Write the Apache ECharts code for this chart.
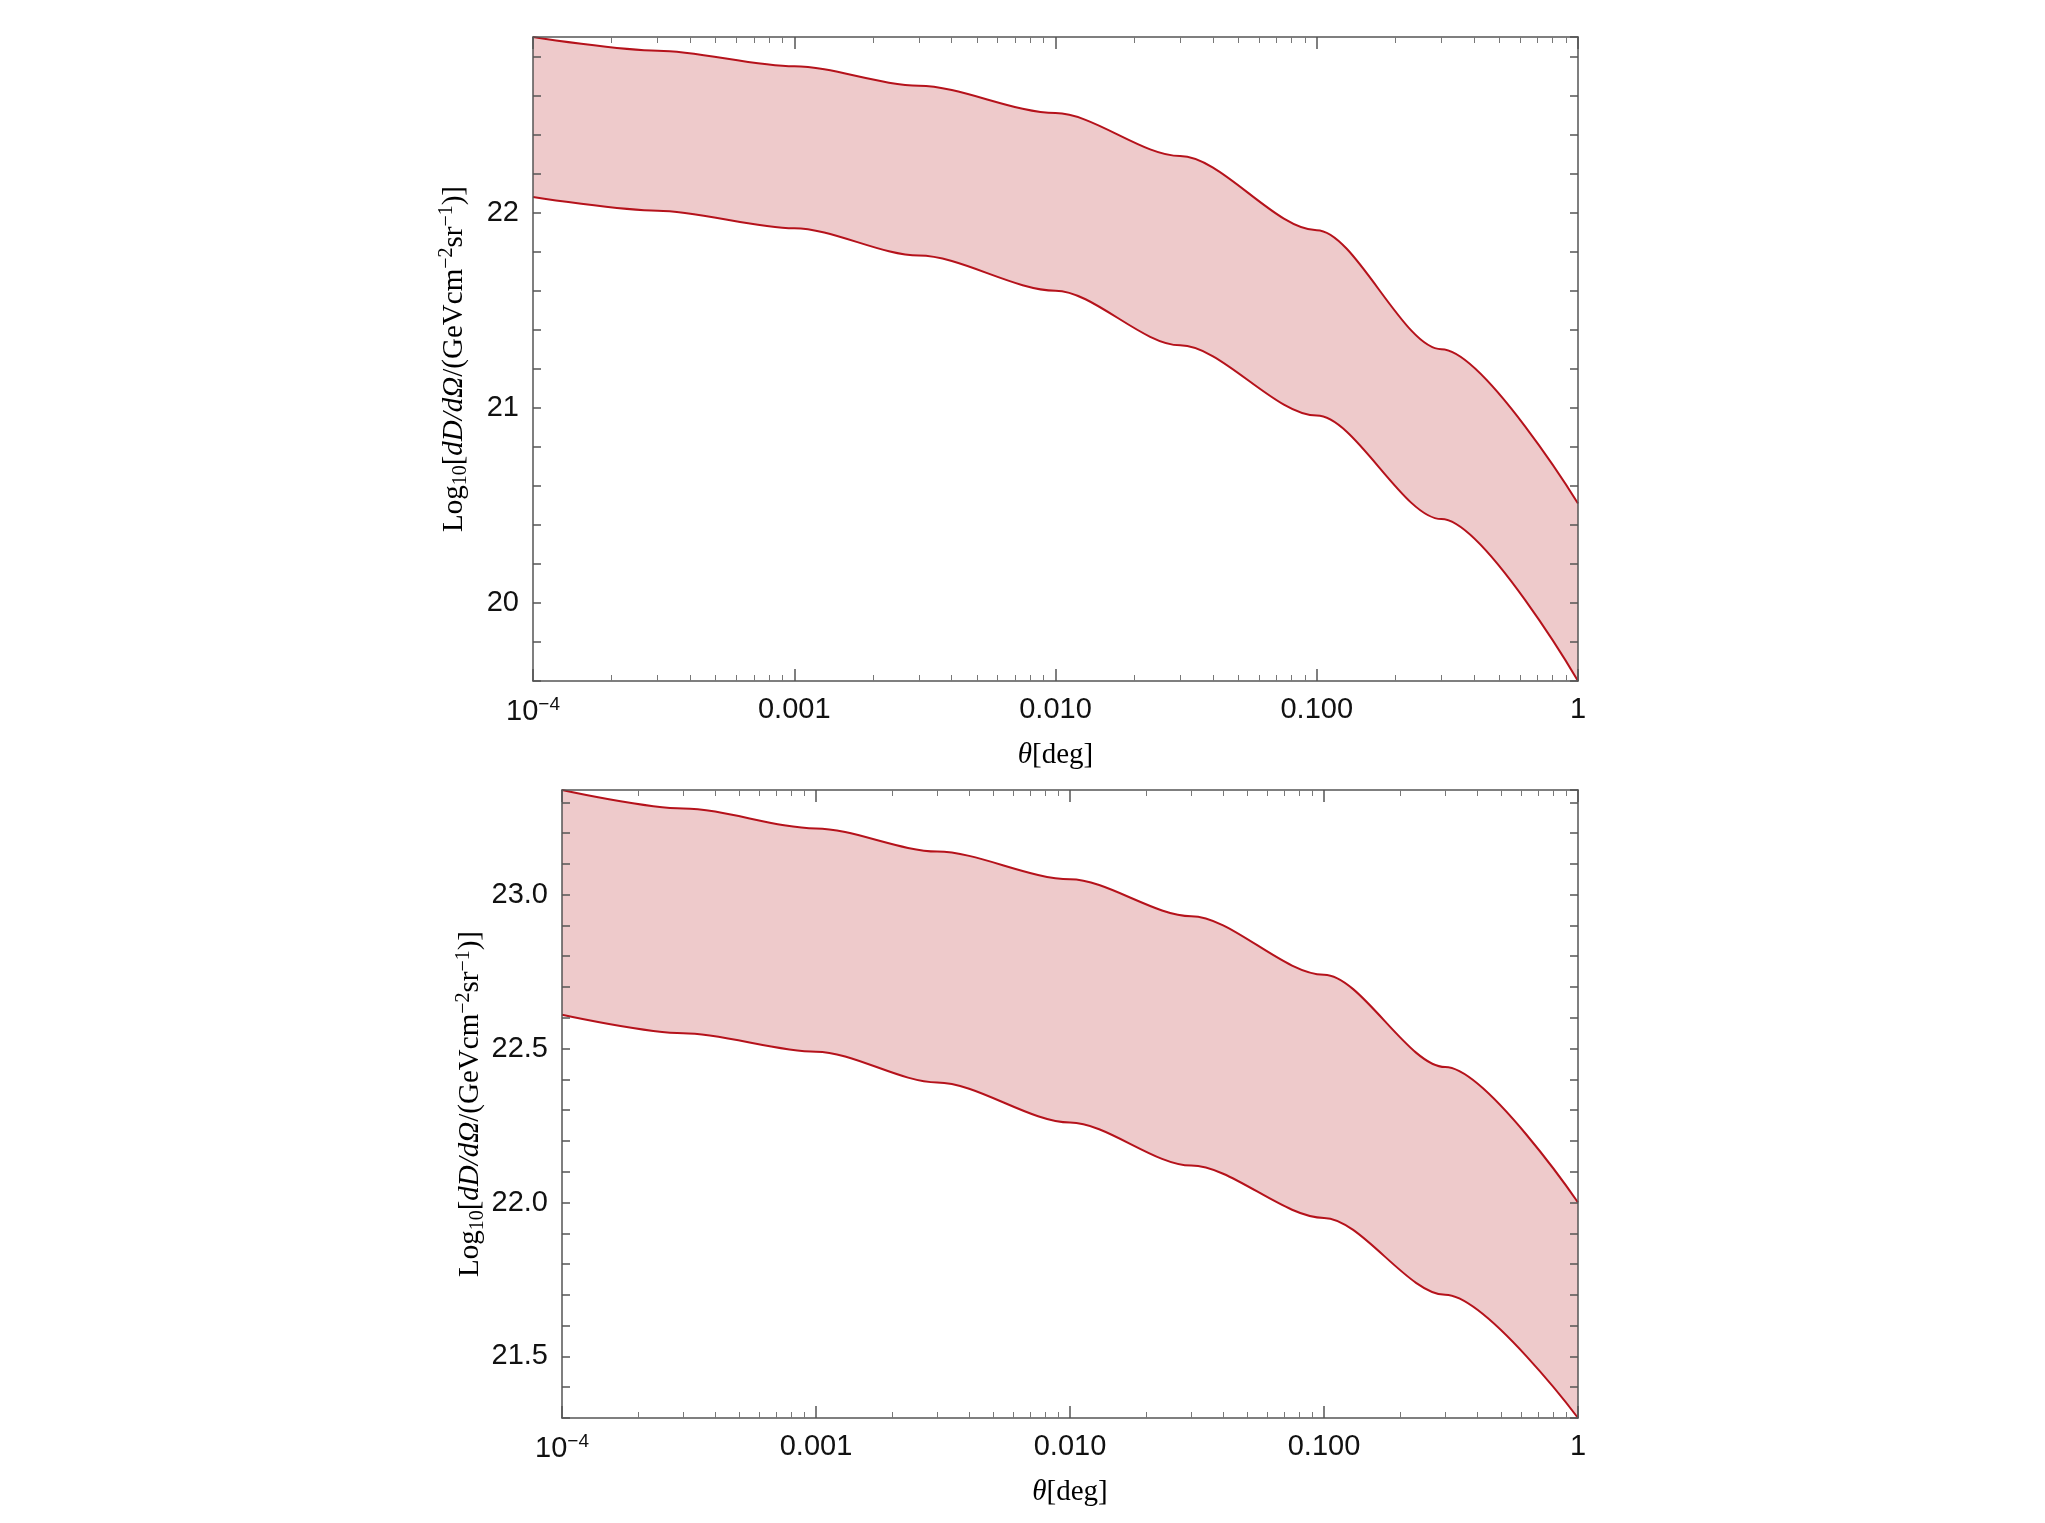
<!DOCTYPE html>
<html><head><meta charset="utf-8">
<script src="https://cdn.jsdelivr.net/npm/echarts@6/dist/echarts.min.js"></script>
<style>html,body{margin:0;background:#fff}#c{width:2045px;height:1523px}</style>
</head><body><div id="c"></div>
<script>
const theta = [0.0001, 0.0003, 0.001, 0.003, 0.01, 0.03, 0.1, 0.3, 1];
const topUpper = [22.90, 22.83, 22.75, 22.65, 22.51, 22.29, 21.91, 21.30, 20.51];
const topLower = [22.08, 22.01, 21.92, 21.78, 21.60, 21.32, 20.96, 20.43, 19.60];
const botUpper = [23.34, 23.28, 23.215, 23.14, 23.05, 22.93, 22.74, 22.44, 22.00];
const botLower = [22.61, 22.55, 22.49, 22.39, 22.26, 22.12, 21.95, 21.70, 21.30];
const xTickLabels = {0.0001: '10{sup|−4}', 0.001: '0.001', 0.01: '0.010', 0.1: '0.100', 1: '1'};

const RED = '#b5121b', FILL = '#eecacb';
const grids = [
  {left: 533, right: 2045 - 1578, top: 37, height: 644},
  {left: 562, right: 2045 - 1578, top: 790, height: 628}
];
const yName = '{t|Log}{s|10}{t|[}{f|dD/dΩ}{t|/(GeVcm}{p|−2}{t|sr}{p|−1}{t|)]}';
const nameRich = {
  t: {fontFamily: 'Liberation Serif', fontSize: 29, color: '#000'},
  s: {fontFamily: 'Liberation Serif', fontSize: 20, color: '#000', verticalAlign: 'bottom', padding: [12, 0, 0, 0]},
  p: {fontFamily: 'Liberation Serif', fontSize: 20, color: '#000', verticalAlign: 'top', padding: [0, 0, 14, 0]},
  f: {fontFamily: 'Liberation Serif', fontSize: 29, fontStyle: 'italic', color: '#000'}
};
const lineStyleAx = {color: '#555', width: 1.5};
function xAx(i, main) {
  return {
    type: 'log', logBase: 10, gridIndex: i, min: 0.0001, max: 1,
    position: main ? 'bottom' : 'top',
    axisLine: {show: true, onZero: false, lineStyle: lineStyleAx},
    axisTick: {show: true, inside: true, length: 12, lineStyle: lineStyleAx},
    minorTick: {show: true, splitNumber: 9, length: 6, lineStyle: {color: '#777'}},
    splitLine: {show: false},
    axisLabel: main ? {
      show: true, margin: 14,
      formatter: v => xTickLabels[+v.toPrecision(3)] || '',
      fontFamily: 'Liberation Sans', fontSize: 29, color: '#111',
      rich: {sup: {fontSize: 19, verticalAlign: 'top', padding: [0, 0, 14, 0], fontFamily: 'Liberation Sans', color: '#111'}}
    } : {show: false},
    name: main ? '{i|θ}{t|[deg]}' : '',
    nameLocation: 'middle', nameGap: 60,
    nameTextStyle: {rich: {i: {fontFamily: 'Liberation Serif', fontStyle: 'italic', fontSize: 29, color: '#000'}, t: nameRich.t}},
    z: 10
  };
}
function yAx(i, main, min, max, step, lblStep, dec) {
  return {
    type: 'value', gridIndex: i, min: min, max: max, interval: step,
    position: main ? 'left' : 'right',
    axisLine: {show: true, onZero: false, lineStyle: lineStyleAx},
    axisTick: {show: true, inside: true, length: 8, lineStyle: lineStyleAx},
    splitLine: {show: false},
    axisLabel: main ? {
      show: true, margin: 14, fontFamily: 'Liberation Sans', fontSize: 29, color: '#111',
      showMinLabel: true, showMaxLabel: false,
      formatter: v => {
        const r = Math.round(v / lblStep) * lblStep;
        return Math.abs(r - v) < 1e-6 ? r.toFixed(dec) : '';
      }
    } : {show: false},
    name: main ? yName : '', nameLocation: 'middle', nameRotate: 90, nameGap: 62,
    nameTextStyle: {rich: nameRich},
    z: 10
  };
}
function band(xi, yi, lower, upper) {
  const lo = theta.map((t, k) => [t, lower[k]]);
  const up = theta.map((t, k) => [t, upper[k]]);
  const common = {type: 'line', xAxisIndex: xi, yAxisIndex: yi, smooth: 0.3, smoothMonotone: 'x', symbol: 'none'};
  return [
    Object.assign({}, common, {data: up, lineStyle: {color: RED, width: 2},
      areaStyle: {color: FILL, opacity: 1, origin: 'start'}, z: 2}),
    Object.assign({}, common, {data: lo, lineStyle: {color: RED, width: 2},
      areaStyle: {color: '#ffffff', opacity: 1, origin: 'start'}, z: 3})
  ];
}
const chart = echarts.init(document.getElementById('c'), null, {renderer: 'canvas'});
chart.setOption({
  animation: false,
  grid: grids,
  xAxis: [xAx(0, true), xAx(1, true), xAx(0, false), xAx(1, false)],
  yAxis: [yAx(0, true, 19.6, 22.9, 0.2, 1, 0), yAx(1, true, 21.3, 23.34, 0.1, 0.5, 1),
          yAx(0, false, 19.6, 22.9, 0.2, 1, 0), yAx(1, false, 21.3, 23.34, 0.1, 0.5, 1)],
  series: [...band(0, 0, topLower, topUpper), ...band(1, 1, botLower, botUpper)]
});
</script></body></html>
